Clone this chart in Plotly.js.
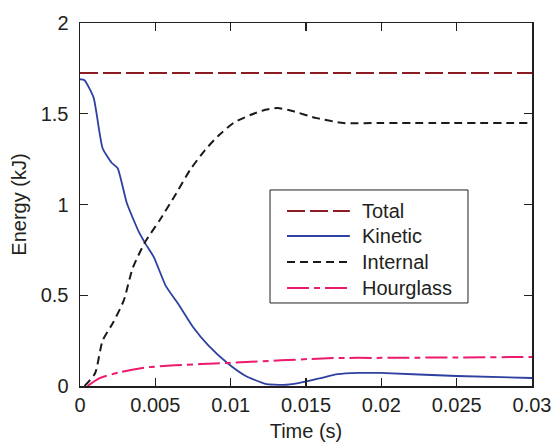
<!DOCTYPE html>
<html>
<head>
<meta charset="utf-8">
<script src="https://cdn.plot.ly/plotly-3.0.1.min.js"></script>
<style>html,body{margin:0;padding:0;background:#fff;}#chart{width:554px;height:444px;}</style>
</head>
<body>
<div id="chart"></div>
<script>
// Data
const totalTime = [0, 0.03];
const totalEnergy = [1.725, 1.725];

const kineticTime = [0, 0.0003, 0.0009, 0.0015, 0.0021, 0.0025, 0.0031, 0.0039, 0.0043, 0.0049, 0.0057, 0.0065, 0.0075, 0.0085, 0.0098, 0.011, 0.0123, 0.0135, 0.0145, 0.0158, 0.0171, 0.0185, 0.0199, 0.025, 0.03];
const kineticEnergy = [1.69, 1.685, 1.59, 1.31, 1.23, 1.2, 1.01, 0.85, 0.79, 0.71, 0.55, 0.455, 0.325, 0.225, 0.125, 0.055, 0.012, 0.006, 0.016, 0.04, 0.065, 0.072, 0.072, 0.055, 0.044];

const internalTime = [0.0003, 0.001, 0.0015, 0.0022, 0.0029, 0.0035, 0.0043, 0.0053, 0.0064, 0.0073, 0.0083, 0.0092, 0.0102, 0.0113, 0.0123, 0.0131, 0.0141, 0.0157, 0.0175, 0.02, 0.03];
const internalEnergy = [0, 0.07, 0.25, 0.35, 0.47, 0.65, 0.79, 0.915, 1.063, 1.19, 1.3, 1.38, 1.45, 1.493, 1.522, 1.532, 1.515, 1.476, 1.449, 1.449, 1.449];

const hourglassTime = [0.0005, 0.0013, 0.0027, 0.0046, 0.008, 0.0098, 0.0168, 0.02, 0.03];
const hourglassEnergy = [0, 0.043, 0.077, 0.104, 0.121, 0.127, 0.154, 0.155, 0.16];

const seriesNames = ['Total', 'Kinetic', 'Internal', 'Hourglass'];
const xTicks = [0, 0.005, 0.01, 0.015, 0.02, 0.025, 0.03];
const xTickLabels = ['0', '0.005', '0.01', '0.015', '0.02', '0.025', '0.03'];
const yTicks = [0, 0.5, 1, 1.5, 2];
const yTickLabels = ['0', '0.5', '1', '1.5', '2'];

const textColor = '#231f20';
const fontFamily = '"Liberation Sans", Arial, Helvetica, sans-serif';

const lineStyles = [
  {color: '#8b1c24', width: 2, dash: '18px,5px'},
  {color: '#2e40a0', width: 1.8},
  {color: '#1a1a1a', width: 2, dash: '8px,5px'},
  {color: '#ec1a6e', width: 2, dash: '22px,5px,6px,5px'}
];

const traces = [
  {x: totalTime, y: totalEnergy, name: seriesNames[0], mode: 'lines',
   line: Object.assign({}, lineStyles[0])},
  {x: kineticTime, y: kineticEnergy, name: seriesNames[1], mode: 'lines',
   line: Object.assign({shape: 'spline', smoothing: 0.5}, lineStyles[1])},
  {x: internalTime, y: internalEnergy, name: seriesNames[2], mode: 'lines',
   line: Object.assign({shape: 'spline', smoothing: 0.6}, lineStyles[2])},
  {x: hourglassTime, y: hourglassEnergy, name: seriesNames[3], mode: 'lines',
   line: Object.assign({shape: 'spline', smoothing: 0.6}, lineStyles[3])}
];

// Legend drawn in paper coordinates (box, sample lines, labels)
const legBox = {x0: 0.4204, x1: 0.8584, y0: 0.2287, y1: 0.540};
const legRowsY = [0.4821, 0.4132, 0.3416, 0.2700];
const legLineX = [0.458, 0.597];
const legTextX = 0.6195;

const shapes = [{
  type: 'rect', xref: 'paper', yref: 'paper',
  x0: legBox.x0, x1: legBox.x1, y0: legBox.y0, y1: legBox.y1,
  line: {color: textColor, width: 1}, fillcolor: '#ffffff', layer: 'above'
}];
const annotations = [];
seriesNames.forEach((name, i) => {
  shapes.push({
    type: 'line', xref: 'paper', yref: 'paper',
    x0: legLineX[0], x1: legLineX[1], y0: legRowsY[i], y1: legRowsY[i],
    line: Object.assign({}, lineStyles[i]), layer: 'above'
  });
  annotations.push({
    xref: 'paper', yref: 'paper', x: legTextX, y: legRowsY[i],
    xanchor: 'left', yanchor: 'middle', showarrow: false, text: name,
    font: {family: fontFamily, size: 20, color: textColor}
  });
});

const axisCommon = {
  showline: true, linecolor: textColor, linewidth: 1.5, mirror: 'ticks',
  ticks: 'inside', ticklen: 8, tickwidth: 1.2, tickcolor: textColor,
  showgrid: false, zeroline: false,
  tickfont: {family: fontFamily, size: 20, color: textColor}
};

const layout = {
  width: 554, height: 444,
  margin: {l: 80, r: 22, t: 23, b: 58},
  paper_bgcolor: '#fff', plot_bgcolor: '#fff',
  font: {family: fontFamily, size: 20, color: textColor},
  showlegend: false,
  xaxis: Object.assign({}, axisCommon, {
    range: [0, 0.03], tickmode: 'array', tickvals: xTicks, ticktext: xTickLabels,
    ticklabelstandoff: 0,
    title: {text: 'Time (s)', font: {family: fontFamily, size: 20, color: textColor}, standoff: 9}
  }),
  yaxis: Object.assign({}, axisCommon, {
    range: [0, 2], tickmode: 'array', tickvals: yTicks, ticktext: yTickLabels,
    ticklabelstandoff: 6,
    title: {text: 'Energy (kJ)', font: {family: fontFamily, size: 20, color: textColor}, standoff: 8}
  }),
  shapes: shapes,
  annotations: annotations
};

Plotly.newPlot('chart', traces, layout, {staticPlot: true, displayModeBar: false});
</script>
</body>
</html>
